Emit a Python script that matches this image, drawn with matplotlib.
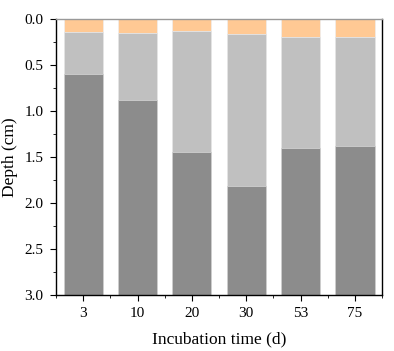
import matplotlib.pyplot as plt
from matplotlib.ticker import MultipleLocator
import numpy as np

plt.rcParams['font.family'] = ['Liberation Serif', 'DejaVu Serif']
plt.rcParams['font.size'] = 11

days = ['3', '10', '20', '30', '53', '75']
# depth boundaries (cm)
oxic_bottom = [0.14, 0.15, 0.13, 0.16, 0.20, 0.20]
mid_bottom = [0.60, 0.88, 1.45, 1.82, 1.40, 1.38]
total_depth = 3.0

x = np.arange(len(days))
top_layer = np.array(oxic_bottom)
mid_layer = np.array(mid_bottom) - np.array(oxic_bottom)
low_layer = total_depth - np.array(mid_bottom)

fig = plt.figure(figsize=(3.94, 3.51), dpi=100)
ax = fig.add_axes([0.142, 0.16, 0.828, 0.786])

w = 0.72
ax.bar(x, top_layer, w, color='#FFC994', edgecolor='#eeeeee', linewidth=0.5)
ax.bar(x, mid_layer, w, bottom=top_layer, color='#C0C0C0', edgecolor='#e6e6e6', linewidth=0.5)
ax.bar(x, low_layer, w, bottom=top_layer + mid_layer, color='#8C8C8C', edgecolor='#d0d0d0', linewidth=0.5)

ax.set_xlim(-0.5, 5.5)
ax.set_ylim(3.0, 0.0)
ax.set_xticks(x)
ax.set_xticklabels(days)
ax.xaxis.set_minor_locator(MultipleLocator(0.5))
ax.yaxis.set_major_locator(MultipleLocator(0.5))
ax.yaxis.set_minor_locator(MultipleLocator(0.25))
ax.yaxis.set_major_formatter(plt.FormatStrFormatter('%.1f'))
ax.tick_params(which='both', direction='out', top=False, right=False)
ax.tick_params(which='major', length=4, pad=5)
ax.tick_params(which='minor', length=2.5)

ax.set_xlabel('Incubation time (d)', fontsize=12.5, labelpad=8)
ax.set_ylabel('Depth (cm)', fontsize=12.5, labelpad=5)

for s in ax.spines.values():
    s.set_linewidth(1.0)
ax.spines['top'].set_color('#999999')

fig.savefig('out.png', dpi=100)
